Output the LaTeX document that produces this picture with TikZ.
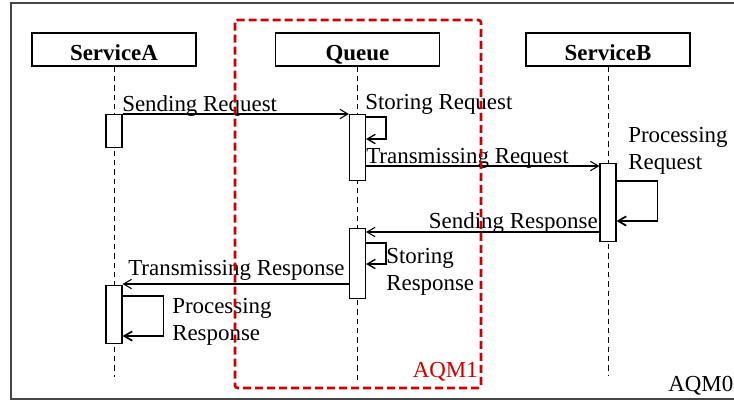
\documentclass[tikz,border=0pt]{standalone}
\usepackage{fontspec}
\setmainfont{Liberation Serif}
\usepackage{tikz}
\usetikzlibrary{arrows.meta,calc}
\definecolor{aqmred}{RGB}{204,0,0}
\definecolor{framegray}{RGB}{70,70,70}
\tikzstyle{msg} = [line width=0.8pt,-{Straight Barb[length=6pt,width=7pt]}]
\tikzstyle{selfloop} = [line width=1pt,-{Straight Barb[length=6pt,width=7pt]}]

\begin{document}
\begin{tikzpicture}[x=0.75pt, y=-0.75pt,
    head/.style={rectangle, draw, line width=1pt, minimum width=123pt, minimum height=24.75pt, text height=17.2pt, text depth=0pt, font=\bfseries\fontsize{17.2}{20.6}\selectfont},
    life/.style={dash pattern=on 4pt off 3pt, line width=0.6pt},
    act/.style={rectangle, draw, fill=white, line width=0.8pt, minimum width=12pt, anchor=north, inner sep=0pt},
    txt/.style={font=\fontsize{17.2}{20.6}\selectfont, inner sep=0pt, align=left}
]
\useasboundingbox (0,0) rectangle (734,401);
\clip (0,0) rectangle (734,401);

% Outer frame (AQM0)
\draw[framegray, line width=1.2pt] (11,3) rectangle (750,399);
\node[txt, anchor=base west] (aqm0) at (668,391) {AQM0};

% Participants and lifelines
\node[head] (srva) at (114,49.5) {ServiceA};
\node[head] (queue) at (357.5,49.5) {Queue};
\node[head] (srvb) at (608,49.5) {ServiceB};

\draw[life] (srva.south) -- ++(0,310);
\draw[life] (queue.south) -- ++(0,317);
\draw[life] (srvb.south) -- ++(0,309);

% Activation bars
\node[act, minimum height=24.75pt] (a1) at (srva.south |- 0,114) {};
\node[act, minimum height=49.5pt] (q1) at (queue.south |- 0,114) {};
\node[act, minimum height=58.5pt] (b1) at (srvb.south |- 0,163) {};
\node[act, minimum height=52.5pt] (q2) at (queue.south |- 0,228) {};
\node[act, minimum height=43.5pt] (a2) at (srva.south |- 0,285) {};

% Request
\draw[msg] (a1.north east) -- (q1.north west);
\node[txt, anchor=base west] (sendreq) at (122,111) {Sending Request};

\draw[selfloop] ($(q1.north east)+(0,3)$) -- ++(20,0) -- ++(0,22) -- ++(-20,0);
\node[txt, anchor=base west] (storereq) at (365,109) {Storing Request};

\draw[msg] (q1.east |- 0,166) -- (b1.west |- 0,166);
\node[txt, anchor=base west] (transreq) at (366,163) {Transmissing Request};

\draw[selfloop, line width=1.3pt] ($(b1.north east)+(0,18)$) -- ++(41,0) -- ++(0,40) -- ++(-41,0);
\node[txt, anchor=north west] (procreq) at (628,127) {Processing\\Request};

% Response
\draw[msg] (b1.west |- 0,232) -- (q2.east |- 0,232);
\node[txt, anchor=base east] (sendresp) at (598,228) {Sending Response};

\draw[selfloop] ($(q2.north east)+(0,15)$) -- ++(20,0) -- ++(0,21) -- ++(-20,0);
\node[txt, anchor=north west] (storeresp) at (386,248) {Storing\\Response};

\draw[msg] (q2.west |- 0,284) -- (a2.east |- 0,284);
\node[txt, anchor=base west] (transresp) at (128,275) {Transmissing Response};

\draw[selfloop, line width=1.3pt] ($(a2.north east)+(0,11)$) -- ++(41,0) -- ++(0,40) -- ++(-41,0);
\node[txt, anchor=north west] (procresp) at (172,298) {Processing\\Response};

% AQM1 boundary
\draw[aqmred, line width=2pt, dash pattern=on 6pt off 3pt, rounded corners=2pt] (235,20) rectangle (481,388);
\node[txt, text=aqmred, anchor=base east] (aqm1) at (478,377) {AQM1};
\end{tikzpicture}
\end{document}
